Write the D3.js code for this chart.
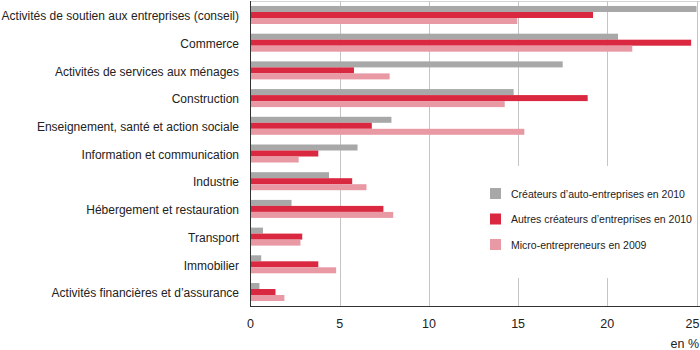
<!DOCTYPE html>
<html lang="fr">
<head>
  <meta charset="UTF-8">
  <title>Créateurs par secteur</title>
  <script src="https://d3js.org/d3.v7.min.js"></script>
  <style>
    body { margin: 0; background: #fff; }
    text { font-family: "Liberation Sans", Arial, sans-serif; fill: #222; }
    .cat { font-size: 12px; }
    .tick-label { font-size: 12.5px; }
    .legend-label { font-size: 10.5px; }
  </style>
</head>
<body>
  <div id="chart"></div>
  <script>
    const categories = [
      "Activités de soutien aux entreprises (conseil)",
      "Commerce",
      "Activités de services aux ménages",
      "Construction",
      "Enseignement, santé et action sociale",
      "Information et communication",
      "Industrie",
      "Hébergement et restauration",
      "Transport",
      "Immobilier",
      "Activités financières et d\u2019assurance"
    ];
    const seriesNames = [
      "Créateurs d\u2019auto-entreprises en 2010",
      "Autres créateurs d\u2019entreprises en 2010",
      "Micro-entrepreneurs en 2009"
    ];
    const autoEntrepreneurs2010 = [25.0, 20.6, 17.5, 14.75, 7.9, 6.0, 4.4, 2.3, 0.7, 0.6, 0.5];
    const autresCreateurs2010 = [19.2, 24.7, 5.8, 18.9, 6.8, 3.8, 5.7, 7.45, 2.9, 3.8, 1.4];
    const microEntrepreneurs2009 = [14.95, 21.4, 7.8, 14.25, 15.35, 2.7, 6.5, 8.0, 2.8, 4.8, 1.9];
    const xTicks = [0, 5, 10, 15, 20, 25];
    const colors = ["#a8a8a8", "#d9283f", "#e899a4"];

    const seriesValues = [autoEntrepreneurs2010, autresCreateurs2010, microEntrepreneurs2009];

    const W = 700, H = 350;
    const svg = d3.select("#chart").append("svg")
      .attr("width", W).attr("height", H);

    const x = d3.scaleLinear().domain([0, 25]).range([250.5, 696.5]);
    const y = d3.scaleBand().domain(categories).range([1, 306])
      .paddingInner(0.35).paddingOuter(0.18);
    const ySub = d3.scaleBand().domain(d3.range(3)).range([0, y.bandwidth()]);

    // top border
    svg.append("line")
      .attr("x1", 250).attr("x2", 700).attr("y1", 1.5).attr("y2", 1.5)
      .attr("stroke", "#d4d4d4");

    // grid
    svg.selectAll(".grid").data(xTicks.slice(1)).enter().append("line")
      .attr("class", "grid")
      .attr("x1", d => Math.round(x(d)) + 0.5).attr("x2", d => Math.round(x(d)) + 0.5)
      .attr("y1", 1).attr("y2", 306)
      .attr("stroke", "#c4c4c4");

    // bars
    const groups = svg.selectAll(".grp").data(categories).enter().append("g")
      .attr("transform", d => `translate(0,${y(d)})`);
    groups.selectAll("rect")
      .data((d, i) => seriesValues.map((s, k) => ({ k, v: s[i] })))
      .enter().append("rect")
      .attr("x", x(0))
      .attr("y", d => ySub(d.k))
      .attr("height", ySub.bandwidth())
      .attr("width", d => x(d.v) - x(0))
      .attr("fill", d => colors[d.k]);

    // legend (white box interrupts the grid)
    const lg = svg.append("g");
    lg.append("rect").attr("x", 478).attr("y", 166).attr("width", 214).attr("height", 112)
      .attr("fill", "#fff");
    seriesNames.forEach((n, i) => {
      lg.append("rect").attr("x", 490).attr("y", 188 + i * 25.5)
        .attr("width", 11).attr("height", 11).attr("fill", colors[i]);
      lg.append("text").attr("class", "legend-label")
        .attr("x", 511).attr("y", 194 + i * 25.5).attr("dy", "0.35em")
        .text(n);
    });

    // axes lines
    svg.append("line").attr("x1", 250.5).attr("x2", 250.5).attr("y1", 1).attr("y2", 306.5)
      .attr("stroke", "#333");
    svg.append("line").attr("x1", 250).attr("x2", 700).attr("y1", 306.5).attr("y2", 306.5)
      .attr("stroke", "#333");

    // category labels
    svg.selectAll(".cat").data(categories).enter().append("text")
      .attr("class", "cat")
      .attr("x", 239)
      .attr("y", d => y(d) + y.bandwidth() / 2 + 1)
      .attr("dy", "0.35em")
      .attr("text-anchor", "end")
      .text(d => d);

    // x tick labels
    svg.selectAll(".tick-label").data(xTicks).enter().append("text")
      .attr("class", "tick-label")
      .attr("x", d => d === 25 ? x(d) - 4 : x(d))
      .attr("y", 324).attr("dy", "0.35em")
      .attr("text-anchor", "middle")
      .text(d => d);

    svg.append("text").attr("class", "tick-label")
      .attr("x", 699).attr("y", 344).attr("dy", "0.35em")
      .attr("text-anchor", "end").text("en %");
  </script>
</body>
</html>
